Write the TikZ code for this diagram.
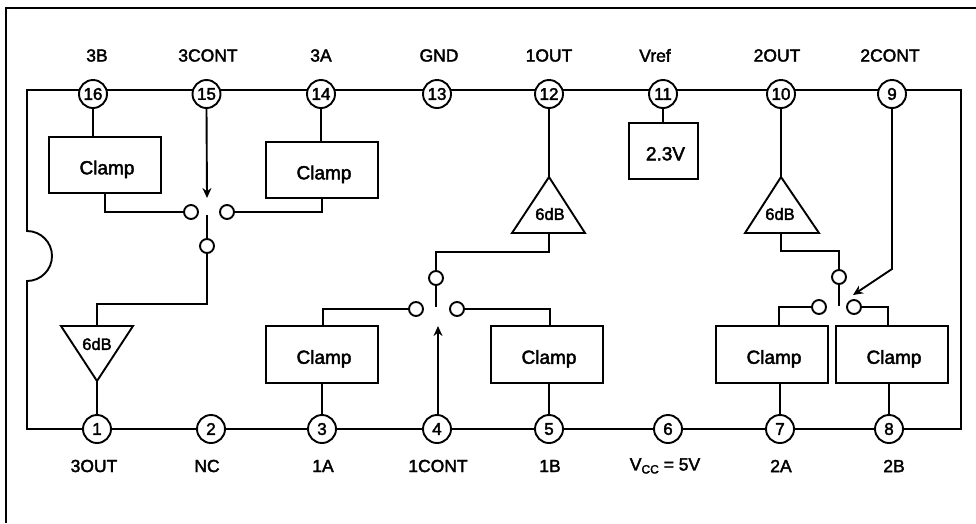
\documentclass[tikz,border=0pt]{standalone}
\usepackage{fontspec}
\setmainfont[FakeBold=2.2]{Liberation Sans}
\usetikzlibrary{arrows.meta}
\newcommand{\boxtxt}[1]{\raisebox{-9.3pt}[0pt][0pt]{\hspace*{4pt}#1}}
\tikzset{
 x=1pt,y=-1pt,
 wire/.style={line width=1.9pt,line join=miter},
 ctrl/.style={wire,-{Stealth[length=10pt,width=9pt]}},
 pin/.style={circle,draw,line width=1.9pt,fill=white,minimum size=28pt,inner sep=0pt,font=\fontsize{17}{17}\selectfont},
 contact/.style={circle,draw,line width=1.9pt,fill=white,minimum size=14pt,inner sep=0pt},
 clampbox/.style={draw,line width=1.9pt,fill=white,minimum width=112pt,minimum height=56pt,inner sep=0pt,font=\fontsize{19}{19}\selectfont},
 lowbox/.style={clampbox,minimum height=57pt},
 refbox/.style={draw,line width=1.9pt,fill=white,minimum width=69pt,minimum height=56pt,inner sep=0pt,font=\fontsize{19}{19}\selectfont},
 lbl/.style={inner sep=0pt,font=\fontsize{17.5}{17.5}\selectfont},
 gain/.style={inner sep=0pt,font=\fontsize{16.5}{16.5}\selectfont},
 amp/.style={draw,line width=1.9pt,fill=white,line join=miter},
}
\begin{document}
\begin{tikzpicture}
\useasboundingbox (0,0) rectangle (976,523);
\fill[white] (0,0) rectangle (976,523);
% outer frame
\draw[line width=1.5pt] (6,523) -- (6,8) -- (976,8);
% package outline
\draw[wire] (93,90) -- (27,90) -- (27,231) arc[start angle=-90,end angle=90,radius=25] -- (27,429) -- (97,429);
\draw[wire] (93,90) -- (892,90) -- (961,90) -- (961,429) -- (97,429);
% pins
\foreach \n/\x in {16/93,15/206.5,14/321,13/437,12/549,11/663,10/781,9/892}
  \node[pin] (p\n) at (\x,94) {\n};
\foreach \n/\x in {1/97,2/211,3/322,4/437,5/549,6/668,7/780,8/889}
  \node[pin] (p\n) at (\x,429) {\n};
% labels
\foreach \t/\x in {3B/97,3CONT/208,3A/321,GND/439,1OUT/549,Vref/655,2OUT/777,2CONT/890}
  \node[lbl] (t\t) at (\x,55.5) {\t};
\foreach \t/\x in {3OUT/94,NC/207,1A/323,1CONT/438,1B/550,2A/781,2B/894}
  \node[lbl] (b\t) at (\x,466) {\t};
\node[lbl] (bvcc) at (665,466) {V\raisebox{-3pt}{\fontsize{12}{12}\selectfont CC} = 5V};
% clamps
\node[clampbox] (c16) at (105,165) {\boxtxt{Clamp}};
\node[clampbox] (c14) at (322,170) {\boxtxt{Clamp}};
\node[lowbox] (c3) at (322,354.5) {\boxtxt{Clamp}};
\node[lowbox] (c5) at (547,354.5) {\boxtxt{Clamp}};
\node[lowbox] (c7) at (772,354.5) {\boxtxt{Clamp}};
\node[lowbox] (c8) at (892,354.5) {\boxtxt{Clamp}};
\node[refbox] (vr) at (663.5,151) {\boxtxt{2.3V}};
% amplifiers
\coordinate (a12t) at (549,177); \coordinate (a12b) at (549,233);
\coordinate (a10t) at (781,177); \coordinate (a10b) at (781,233);
\coordinate (a1t) at (97,326);  \coordinate (a1b) at (97,381);
\draw[amp] (a12t) -- (585,233) -- (512,233) -- cycle;
\draw[amp] (a10t) -- (819,233) -- (745,233) -- cycle;
\draw[amp] (a1b) -- (133,326) -- (61,326) -- cycle;
\node[gain] (g12) at (550,214) {6dB};
\node[gain] (g10) at (780,214) {6dB};
\node[gain] (g1) at (97,344) {6dB};
% contacts
\node[contact] (s3l) at (191,212) {};
\node[contact] (s3r) at (227,212) {};
\node[contact] (s3b) at (207,246) {};
\node[contact] (s1t) at (436,278) {};
\node[contact] (s1l) at (416,309) {};
\node[contact] (s1r) at (457,309) {};
\node[contact] (s2t) at (839,277) {};
\node[contact] (s2l) at (819,307) {};
\node[contact] (s2r) at (854,307) {};
% free ends
\coordinate (s3s) at (207,215); \coordinate (s1s) at (436,307); \coordinate (s2s) at (839,306);
\coordinate (s3a) at (207,198); \coordinate (s1a) at (438,326); \coordinate (s2a) at (853,295);
% pin to block
\draw[wire] (p16.south) -- (p16.south |- c16.north);
\draw[wire] (p14.south) -- (p14.south |- c14.north);
\draw[wire] (p11.south) -- (p11.south |- vr.north);
\draw[wire] (p12.south) -- (a12t);
\draw[wire] (p10.south) -- (a10t);
\draw[wire] (a1b) -- (p1.north);
\draw[wire] (p3.north) -- (p3.north |- c3.south);
\draw[wire] (p5.north) -- (p5.north |- c5.south);
\draw[wire] (p7.north) -- (p7.north |- c7.south);
\draw[wire] (p8.north) -- (p8.north |- c8.south);
% switch 3
\draw[ctrl] (p15.south) -- (s3a);
\draw[wire] (105,193) |- (s3l.west);
\draw[wire] (322,198) |- (s3r.east);
\draw[wire] (s3s) -- (s3b.north);
\draw[wire] (s3b.south) |- (97,304) -- (a1t);
% switch 1
\draw[ctrl] (p4.north -| s1a) -- (s1a);
\draw[wire] (323,326) |- (s1l.west);
\draw[wire] (550,326) |- (s1r.east);
\draw[wire] (s1s) -- (s1t.south);
\draw[wire] (s1t.north) |- (549,252) -- (a12b);
% switch 2
\draw[wire] (s2s) -- (s2t.south);
\draw[wire] (s2t.north) |- (781,251) -- (a10b);
\draw[wire] (779,326) |- (s2l.west);
\draw[wire] (888,326) |- (s2r.east);
\draw[ctrl] (p9.south) -- (892,269) -- (s2a);
\end{tikzpicture}
\end{document}
